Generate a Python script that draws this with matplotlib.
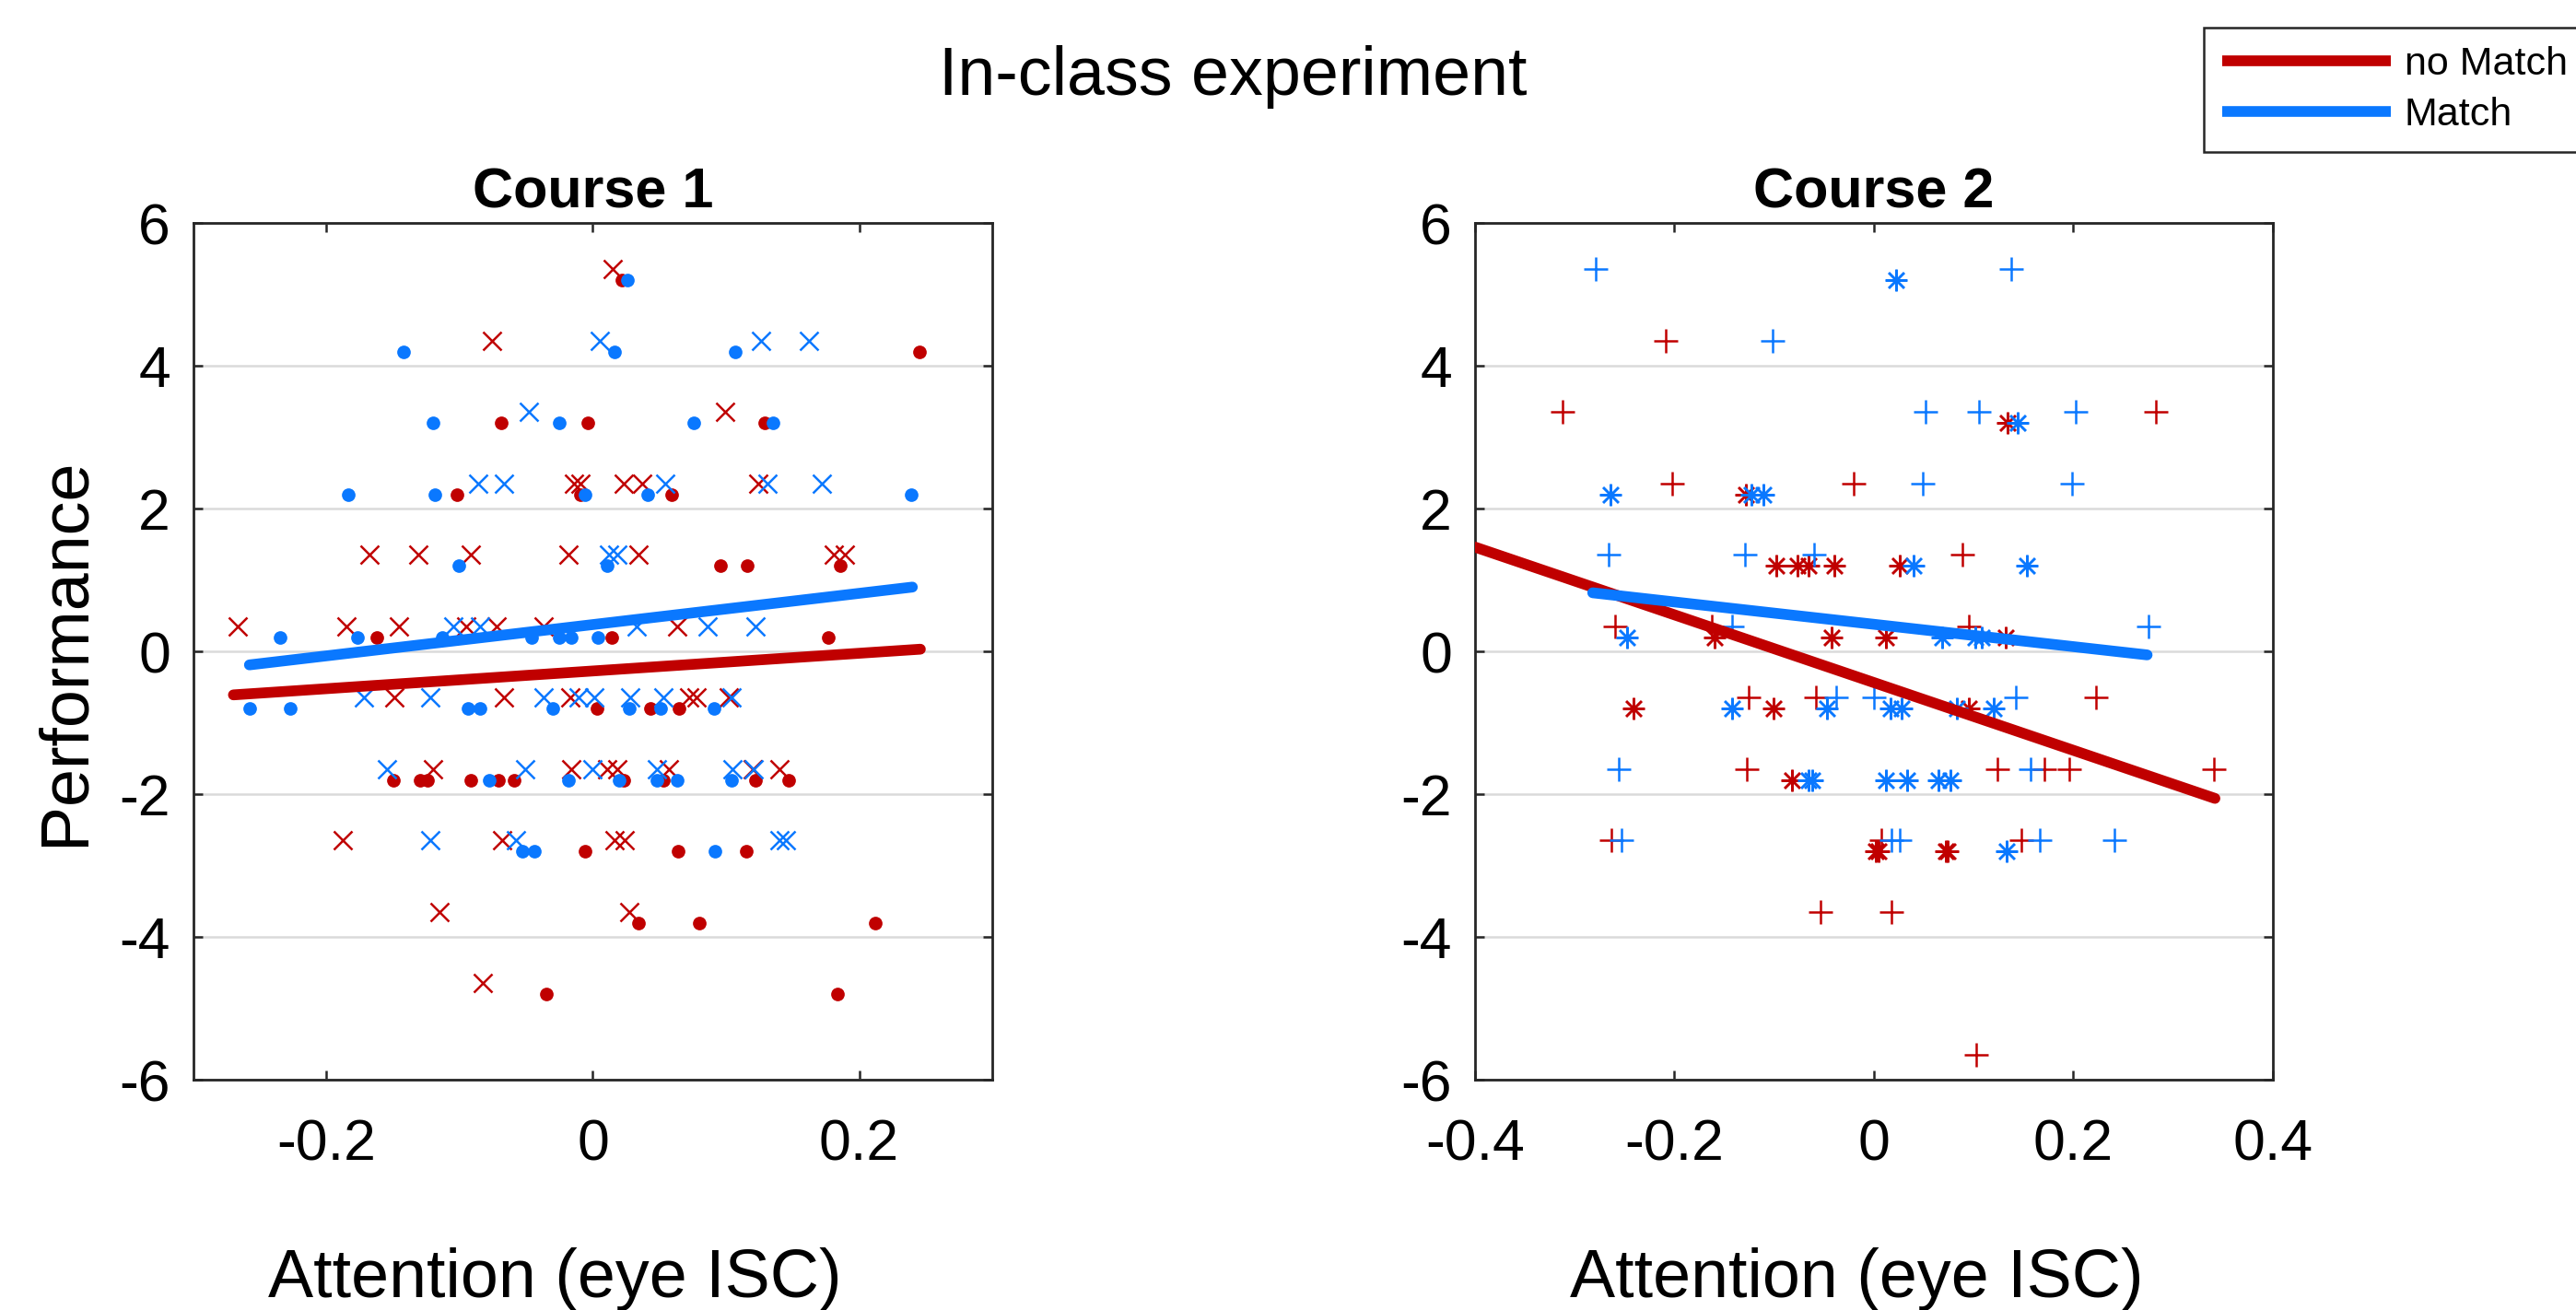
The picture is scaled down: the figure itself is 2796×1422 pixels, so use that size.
import matplotlib.pyplot as plt

plt.rcParams['font.family'] = ['Liberation Sans', 'DejaVu Sans']
plt.rcParams['axes.unicode_minus'] = False

RED = "#C00000"
BLUE = "#0A78FF"
DARK = "#262626"

# --- Course 1 (dot / x markers) ---
c1_red_dot_x = [0.022, 0.245, -0.069, -0.004, 0.129, -0.102, -0.009, 0.059, 0.096, 0.116, 0.186,
                -0.162, 0.014, 0.177, 0.003, 0.043, 0.065, -0.150, -0.130, -0.124, -0.092, -0.071,
                -0.059, 0.023, 0.053, 0.122, 0.147, -0.006, 0.064, 0.115, 0.034, 0.080, 0.212,
                -0.035, 0.184]
c1_red_dot_y = [5.2, 4.2, 3.2, 3.2, 3.2, 2.2, 2.2, 2.2, 1.2, 1.2, 1.2,
                0.2, 0.2, 0.2, -0.8, -0.8, -0.8, -1.8, -1.8, -1.8, -1.8, -1.8,
                -1.8, -1.8, -1.8, -1.8, -1.8, -2.8, -2.8, -2.8, -3.8, -3.8, -3.8,
                -4.8, -4.8]

c1_red_x_x = [0.015, -0.076, 0.099, -0.014, -0.009, 0.023, 0.037, 0.124, -0.168, -0.131, -0.092,
              -0.018, 0.034, 0.181, 0.189, -0.267, -0.185, -0.146, -0.095, -0.072, -0.037, 0.063,
              -0.149, -0.067, -0.017, 0.072, 0.078, 0.102, -0.120, -0.016, 0.011, 0.018, 0.057,
              0.120, 0.140, -0.188, -0.068, 0.016, 0.024, -0.115, 0.027, -0.083]
c1_red_x_y = [5.35, 4.35, 3.35, 2.35, 2.35, 2.35, 2.35, 2.35, 1.35, 1.35, 1.35,
              1.35, 1.35, 1.35, 1.35, 0.35, 0.35, 0.35, 0.35, 0.35, 0.35, 0.35,
              -0.65, -0.65, -0.65, -0.65, -0.65, -0.65, -1.65, -1.65, -1.65, -1.65, -1.65,
              -1.65, -1.65, -2.65, -2.65, -2.65, -2.65, -3.65, -3.65, -4.65]

c1_blue_dot_x = [0.026, -0.142, 0.016, 0.107, -0.120, -0.025, 0.076, 0.135, -0.184, -0.119, -0.006,
                 0.041, 0.239, -0.101, 0.011, -0.235, -0.177, -0.113, -0.046, -0.025, -0.016, 0.004,
                 -0.258, -0.227, -0.094, -0.085, -0.030, 0.027, 0.051, 0.091, -0.078, -0.018, 0.020,
                 0.048, 0.063, 0.104, -0.053, -0.044, 0.092]
c1_blue_dot_y = [5.2, 4.2, 4.2, 4.2, 3.2, 3.2, 3.2, 3.2, 2.2, 2.2, 2.2,
                 2.2, 2.2, 1.2, 1.2, 0.2, 0.2, 0.2, 0.2, 0.2, 0.2, 0.2,
                 -0.8, -0.8, -0.8, -0.8, -0.8, -0.8, -0.8, -0.8, -1.8, -1.8, -1.8,
                 -1.8, -1.8, -1.8, -2.8, -2.8, -2.8]

c1_blue_x_x = [0.005, 0.126, 0.162, -0.048, -0.086, -0.067, 0.054, 0.131, 0.172, 0.012, 0.018,
               -0.105, -0.085, 0.033, 0.086, 0.122, -0.172, -0.122, -0.037, -0.011, 0.001, 0.028,
               0.053, 0.104, -0.155, -0.051, 0.000, 0.048, 0.105, 0.121, -0.122, -0.058, 0.140,
               0.145]
c1_blue_x_y = [4.35, 4.35, 4.35, 3.35, 2.35, 2.35, 2.35, 2.35, 2.35, 1.35, 1.35,
               0.35, 0.35, 0.35, 0.35, 0.35, -0.65, -0.65, -0.65, -0.65, -0.65, -0.65,
               -0.65, -0.65, -1.65, -1.65, -1.65, -1.65, -1.65, -1.65, -2.65, -2.65, -2.65,
               -2.65]

c1_red_fit_x = [-0.270, 0.246]
c1_red_fit_y = [-0.61, 0.03]
c1_blue_fit_x = [-0.258, 0.240]
c1_blue_fit_y = [-0.19, 0.90]

# --- Course 2 (+ / * markers) ---
c2_red_plus_x = [-0.209, -0.312, 0.283, -0.202, -0.020, 0.089, -0.260, -0.163, 0.095, -0.126, -0.058,
                 0.223, -0.127, 0.124, 0.171, 0.196, 0.341, -0.263, 0.007, 0.148, -0.054, 0.018, 0.103]
c2_red_plus_y = [4.35, 3.35, 3.35, 2.35, 2.35, 1.35, 0.35, 0.35, 0.35, -0.65, -0.65,
                 -0.65, -1.65, -1.65, -1.65, -1.65, -1.65, -2.65, -2.65, -2.65, -3.65, -3.65, -5.65]

c2_red_star_x = [0.134, -0.128, -0.098, -0.077, -0.066, -0.040, 0.026, -0.160, -0.042, 0.012,
                 0.132, -0.241, -0.101, 0.095, -0.082, 0.002, 0.005, 0.072, 0.074]
c2_red_star_y = [3.2, 2.2, 1.2, 1.2, 1.2, 1.2, 1.2, 0.2, 0.2, 0.2,
                 0.2, -0.8, -0.8, -0.8, -1.8, -2.8, -2.8, -2.8, -2.8]

c2_blue_plus_x = [-0.279, 0.138, -0.102, 0.052, 0.105, 0.202, 0.049, 0.199, -0.266, -0.129, -0.060,
                  -0.142, 0.275, -0.038, 0.000, 0.142, -0.256, 0.157, -0.253, 0.018, 0.026, 0.166, 0.241]
c2_blue_plus_y = [5.35, 5.35, 4.35, 3.35, 3.35, 3.35, 2.35, 2.35, 1.35, 1.35, 1.35,
                  0.35, 0.35, -0.65, -0.65, -0.65, -1.65, -1.65, -2.65, -2.65, -2.65, -2.65, -2.65]

c2_blue_star_x = [0.022, 0.144, -0.264, -0.123, -0.111, 0.040, 0.153, -0.248, 0.068, 0.102, 0.108,
                  -0.142, -0.047, 0.017, 0.028, 0.083, 0.120, -0.066, -0.062, 0.012, 0.033, 0.065,
                  0.077, 0.133]
c2_blue_star_y = [5.2, 3.2, 2.2, 2.2, 2.2, 1.2, 1.2, 0.2, 0.2, 0.2, 0.2,
                  -0.8, -0.8, -0.8, -0.8, -0.8, -0.8, -1.8, -1.8, -1.8, -1.8, -1.8,
                  -1.8, -2.8]

c2_red_fit_x = [-0.40, 0.342]
c2_red_fit_y = [1.46, -2.06]
c2_blue_fit_x = [-0.282, 0.274]
c2_blue_fit_y = [0.82, -0.05]

y_ticks = [-6, -4, -2, 0, 2, 4, 6]
c1_xticks = [-0.2, 0, 0.2]
c1_xticklabels = ["-0.2", "0", "0.2"]
c2_xticks = [-0.4, -0.2, 0, 0.2, 0.4]
c2_xticklabels = ["-0.4", "-0.2", "0", "0.2", "0.4"]

ASTERISK = (8, 2, 0)

fig = plt.figure(figsize=(13.98, 7.11), dpi=200)
ax1 = fig.add_axes([0.0751, 0.1758, 0.3101, 0.654])
ax2 = fig.add_axes([0.5726, 0.1758, 0.3097, 0.654])


def style_axes(ax, xlim, xticks, xticklabels):
    ax.set_xlim(xlim)
    ax.set_ylim(-6, 6)
    ax.set_xticks(xticks)
    ax.set_xticklabels(xticklabels)
    ax.set_yticks(y_ticks)
    ax.set_yticklabels([str(t) for t in y_ticks])
    ax.yaxis.grid(True, color="#DADADA", linewidth=0.9)
    ax.set_axisbelow(True)
    for s in ax.spines.values():
        s.set_color(DARK)
        s.set_linewidth(1.0)
    ax.tick_params(direction="in", top=True, right=True, length=3.6, width=0.9,
                   color=DARK, labelsize=22.5, labelcolor="black")
    ax.tick_params(axis="x", pad=15)
    ax.tick_params(axis="y", pad=9)


# Course 1
ax1.plot(c1_red_dot_x, c1_red_dot_y, "o", color=RED, ms=5.3, mew=0, zorder=3)
ax1.plot(c1_red_x_x, c1_red_x_y, "x", color=RED, ms=7.2, mew=0.9, zorder=3)
ax1.plot(c1_blue_dot_x, c1_blue_dot_y, "o", color=BLUE, ms=5.3, mew=0, zorder=3)
ax1.plot(c1_blue_x_x, c1_blue_x_y, "x", color=BLUE, ms=7.2, mew=0.9, zorder=3)
ax1.plot(c1_red_fit_x, c1_red_fit_y, color=RED, lw=4.2, solid_capstyle="round", zorder=4)
ax1.plot(c1_blue_fit_x, c1_blue_fit_y, color=BLUE, lw=4.2, solid_capstyle="round", zorder=4)
style_axes(ax1, (-0.3, 0.3), c1_xticks, c1_xticklabels)
ax1.set_title("Course 1", fontsize=22, fontweight="bold", pad=6)
ax1.set_ylabel("Performance", fontsize=26.5)
ax1.yaxis.set_label_coords(-0.12, 0.5)
ax1.set_xlabel("Attention (eye ISC)", fontsize=26.5, va="baseline")
ax1.xaxis.set_label_coords(0.452, -0.254)

# Course 2
ax2.plot(c2_red_plus_x, c2_red_plus_y, "+", color=RED, ms=9.5, mew=0.9, zorder=3)
ax2.plot(c2_red_star_x, c2_red_star_y, marker=ASTERISK, ls="none", color=RED, ms=8.5, mew=0.9, zorder=3)
ax2.plot(c2_blue_plus_x, c2_blue_plus_y, "+", color=BLUE, ms=9.5, mew=0.9, zorder=3)
ax2.plot(c2_blue_star_x, c2_blue_star_y, marker=ASTERISK, ls="none", color=BLUE, ms=8.5, mew=0.9, zorder=3)
red_line, = ax2.plot(c2_red_fit_x, c2_red_fit_y, color=RED, lw=4.2, solid_capstyle="round", zorder=4)
blue_line, = ax2.plot(c2_blue_fit_x, c2_blue_fit_y, color=BLUE, lw=4.2, solid_capstyle="round", zorder=4)
style_axes(ax2, (-0.4, 0.4), c2_xticks, c2_xticklabels)
ax2.set_title("Course 2", fontsize=22, fontweight="bold", pad=6)
ax2.set_xlabel("Attention (eye ISC)", fontsize=26.5, va="baseline")
ax2.xaxis.set_label_coords(0.478, -0.254)

fig.text(0.4785, 0.9276, "In-class experiment", ha="center", va="baseline", fontsize=26.5)

leg = fig.legend([red_line, blue_line], ["no Match", "Match"], loc="upper left",
                 bbox_to_anchor=(2392 / 2796, 1 - 30 / 1422), borderaxespad=0,
                 fontsize=15.5, handlelength=4.25, handletextpad=0.35, borderpad=0.46,
                 labelspacing=0.36, fancybox=False, framealpha=1)
leg.get_frame().set_edgecolor(DARK)
leg.get_frame().set_linewidth(0.9)
for h in leg.get_lines():
    h.set_solid_capstyle("butt")

fig.savefig("out.png", dpi=200)
